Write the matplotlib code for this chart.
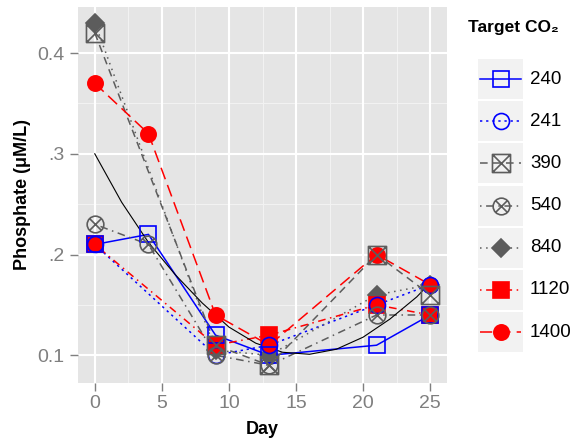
import numpy as np
import matplotlib as mpl
mpl.use("Agg")
import matplotlib.pyplot as plt
from matplotlib.path import Path
from matplotlib.patches import Rectangle

mpl.rcParams.update({
    "font.family": ["Liberation Sans", "DejaVu Sans"],
})

# ---------------------------------------------------------------- data
DAYS = [0, 4, 9, 13, 21, 25]
NA = np.nan

CO2_LEVELS = ["240", "241", "390", "540", "840", "1120", "1400"]
P_240 = [0.21, 0.22, 0.12, 0.10, 0.11, 0.14]
P_241 = [0.21, NA, 0.10, 0.11, 0.15, 0.17]
P_390 = [0.42, NA, 0.11, 0.09, 0.20, 0.16]
P_540 = [0.23, 0.21, 0.10, 0.09, 0.14, 0.14]
P_840 = [0.43, NA, 0.105, 0.10, 0.16, 0.17]
P_1120 = [0.21, NA, 0.11, 0.12, 0.15, 0.14]
P_1400 = [0.37, 0.32, 0.14, 0.11, 0.20, 0.17]
SERIES = [P_240, P_241, P_390, P_540, P_840, P_1120, P_1400]

# smooth trend
SMOOTH_DAY = [0, 2, 4, 6, 8, 10, 12, 14, 16, 18, 20, 22, 24, 25]
SMOOTH_VAL = [0.300, 0.252, 0.212, 0.180, 0.152, 0.128, 0.112, 0.103,
              0.101, 0.106, 0.118, 0.136, 0.158, 0.172]

Y_TICKS = [0.1, 0.2, 0.3, 0.4]
Y_TICKLABELS = ["0.1", ".2", ".3", "0.4"]
X_TICKS = [0, 5, 10, 15, 20, 25]

# ---------------------------------------------------------------- styles
C_BLUE = "#0000FF"
C_RED = "#FF0000"
C_GREY = "#5c5c5c"

SQX = Path([(-1, -1), (1, -1), (1, 1), (-1, 1), (-1, -1),
            (-1, -1), (1, 1), (-1, 1), (1, -1)],
           [Path.MOVETO, Path.LINETO, Path.LINETO, Path.LINETO, Path.CLOSEPOLY,
            Path.MOVETO, Path.LINETO, Path.MOVETO, Path.LINETO])
_k = 0.7071
CIRX = Path.make_compound_path(
    Path.unit_circle(),
    Path([(-_k, -_k), (_k, _k), (-_k, _k), (_k, -_k)],
         [Path.MOVETO, Path.LINETO, Path.MOVETO, Path.LINETO]))

STYLES = [
    dict(color=C_BLUE, ls="-", marker="s", ms=11.5, mfc="none", z=4),
    dict(color=C_BLUE, ls=(0, (1.5, 2.5)), marker="o", ms=11.5, mfc="none", z=4),
    dict(color=C_GREY, ls=(0, (5, 3.5)), marker=SQX, ms=13, mfc="none", z=4),
    dict(color=C_GREY, ls=(0, (1, 3, 5, 3)), marker=CIRX, ms=12, mfc="none", z=4),
    dict(color=C_GREY, ls=(0, (1, 3)), marker="D", ms=9.5, mfc=C_GREY, z=3),
    dict(color=C_RED, ls=(0, (1, 3, 5, 3)), marker="s", ms=11, mfc=C_RED, z=3),
    dict(color=C_RED, ls=(0, (8, 4)), marker="o", ms=11, mfc=C_RED, z=3),
]
LW = 1.1
TICK_C = "#7f7f7f"


def main():
    fig = plt.figure(figsize=(5.76, 4.43), dpi=100)
    ax = fig.add_axes([78 / 576, 1 - 383 / 443, 369 / 576, 376 / 443])
    ax.set_facecolor("#E5E5E5")
    for s in ax.spines.values():
        s.set_visible(False)

    # grid
    for v in [2.5, 7.5, 12.5, 17.5, 22.5]:
        ax.axvline(v, color="#F2F2F2", lw=0.8, zorder=0)
    for v in [0.15, 0.25, 0.35]:
        ax.axhline(v, color="#F2F2F2", lw=0.8, zorder=0)
    for v in X_TICKS:
        ax.axvline(v, color="white", lw=1.5, zorder=0.5)
    for v in Y_TICKS:
        ax.axhline(v, color="white", lw=1.5, zorder=0.5)

    days = np.array(DAYS, dtype=float)
    for vals, st in zip(SERIES, STYLES):
        vals = np.array(vals, dtype=float)
        m = ~np.isnan(vals)
        ax.plot(days[m], vals[m], color=st["color"], ls=st["ls"], lw=LW, zorder=2)
        ax.plot(days[m], vals[m], ls="none", marker=st["marker"], ms=st["ms"],
                mfc=st["mfc"], mec=st["color"], mew=1.2, zorder=st["z"])

    ax.plot(SMOOTH_DAY, SMOOTH_VAL, color="black", lw=0.8, zorder=2.5)

    ax.set_xlim(-1.25, 26.25)
    ax.set_ylim(0.0725, 0.4457)
    ax.set_xticks(X_TICKS)
    ax.set_yticks(Y_TICKS)
    ax.set_yticklabels(Y_TICKLABELS)
    ax.tick_params(length=6, width=1, color=TICK_C, labelcolor=TICK_C,
                   labelsize=14, pad=3)
    ax.tick_params(axis="y", pad=4)
    ax.set_xlabel("Day", fontsize=13, fontweight="bold", labelpad=6)
    ax.set_ylabel("Phosphate (μM/L)", fontsize=13, fontweight="bold", labelpad=4)

    # legend, drawn in pixel coordinates
    lax = fig.add_axes([0, 0, 1, 1], zorder=-1)
    lax.set_xlim(0, 576)
    lax.set_ylim(443, 0)
    lax.axis("off")
    lax.text(468, 27, "Target CO₂", fontsize=12.5, fontweight="bold",
             ha="left", va="center")
    for i, (lbl, st) in enumerate(zip(CO2_LEVELS, STYLES)):
        y0 = 59 + i * 42.2
        lax.add_patch(Rectangle((478, y0), 45, 40, facecolor="#F2F2F2",
                                edgecolor="none"))
        yc = y0 + 20
        lax.plot([480, 521], [yc, yc], color=st["color"], ls=st["ls"], lw=LW)
        lax.plot([500.5], [yc], ls="none", marker=st["marker"], ms=st["ms"],
                 mfc=st["mfc"], mec=st["color"], mew=1.2)
        lax.text(530, yc, lbl, fontsize=13.5, ha="left", va="center")

    fig.savefig("out.png", dpi=100)
    plt.close(fig)


if __name__ == "__main__":
    main()
